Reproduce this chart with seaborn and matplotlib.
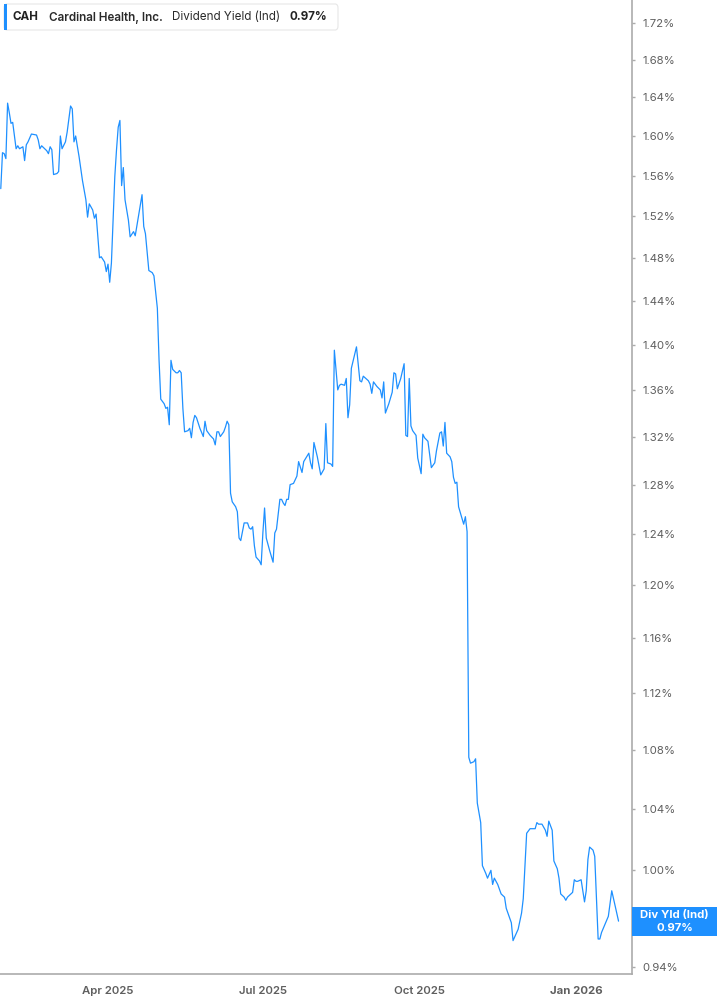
import matplotlib
matplotlib.use("Agg")
import matplotlib.pyplot as plt
import matplotlib.dates as mdates
from matplotlib.patches import Rectangle, FancyBboxPatch
from matplotlib.ticker import FixedLocator, FixedFormatter, NullLocator
import seaborn as sns
import pandas as pd

# ---------------- data ----------------
dates = [
    "2025-01-28", "2025-01-29", "2025-01-30", "2025-01-31", "2025-02-01", "2025-02-02", "2025-02-03", "2025-02-04",
    "2025-02-06", "2025-02-07", "2025-02-08", "2025-02-09", "2025-02-10", "2025-02-11", "2025-02-12", "2025-02-13",
    "2025-02-15", "2025-02-18", "2025-02-19", "2025-02-20", "2025-02-21", "2025-02-24", "2025-02-25", "2025-02-26",
    "2025-02-27", "2025-02-28", "2025-03-02", "2025-03-03", "2025-03-04", "2025-03-05", "2025-03-07", "2025-03-08",
    "2025-03-10", "2025-03-11", "2025-03-12", "2025-03-13", "2025-03-15", "2025-03-17", "2025-03-19", "2025-03-20",
    "2025-03-21", "2025-03-23", "2025-03-24", "2025-03-25", "2025-03-27", "2025-03-28", "2025-03-30", "2025-03-31",
    "2025-04-01", "2025-04-02", "2025-04-03", "2025-04-05", "2025-04-06", "2025-04-07", "2025-04-08", "2025-04-09",
    "2025-04-10", "2025-04-11", "2025-04-13", "2025-04-14", "2025-04-16", "2025-04-17", "2025-04-19", "2025-04-21",
    "2025-04-22", "2025-04-23", "2025-04-25", "2025-04-27", "2025-04-28", "2025-04-30", "2025-05-01", "2025-05-02",
    "2025-05-04", "2025-05-05", "2025-05-06", "2025-05-07", "2025-05-08", "2025-05-09", "2025-05-11", "2025-05-12",
    "2025-05-13", "2025-05-14", "2025-05-15", "2025-05-16", "2025-05-18", "2025-05-19", "2025-05-20", "2025-05-21",
    "2025-05-22", "2025-05-23", "2025-05-25", "2025-05-27", "2025-05-28", "2025-05-29", "2025-05-31", "2025-06-02",
    "2025-06-03", "2025-06-04", "2025-06-05", "2025-06-06", "2025-06-08", "2025-06-09", "2025-06-10", "2025-06-11",
    "2025-06-12", "2025-06-13", "2025-06-15", "2025-06-16", "2025-06-17", "2025-06-18", "2025-06-20", "2025-06-22",
    "2025-06-23", "2025-06-24", "2025-06-25", "2025-06-26", "2025-06-27", "2025-06-29", "2025-06-30", "2025-07-01",
    "2025-07-02", "2025-07-03", "2025-07-05", "2025-07-07", "2025-07-08", "2025-07-09", "2025-07-11", "2025-07-12",
    "2025-07-13", "2025-07-14", "2025-07-15", "2025-07-16", "2025-07-17", "2025-07-19", "2025-07-20", "2025-07-21",
    "2025-07-22", "2025-07-24", "2025-07-25", "2025-07-28", "2025-07-29", "2025-07-30", "2025-07-31", "2025-08-02",
    "2025-08-04", "2025-08-06", "2025-08-07", "2025-08-08", "2025-08-10", "2025-08-11", "2025-08-12", "2025-08-14",
    "2025-08-15", "2025-08-16", "2025-08-18", "2025-08-19", "2025-08-20", "2025-08-21", "2025-08-22", "2025-08-25",
    "2025-08-27", "2025-08-28", "2025-08-29", "2025-09-01", "2025-09-02", "2025-09-03", "2025-09-04", "2025-09-06",
    "2025-09-08", "2025-09-09", "2025-09-10", "2025-09-11", "2025-09-13", "2025-09-15", "2025-09-16", "2025-09-17",
    "2025-09-18", "2025-09-20", "2025-09-22", "2025-09-23", "2025-09-24", "2025-09-25", "2025-09-26", "2025-09-27",
    "2025-09-29", "2025-09-30", "2025-10-02", "2025-10-03", "2025-10-04", "2025-10-06", "2025-10-08", "2025-10-10",
    "2025-10-11", "2025-10-13", "2025-10-14", "2025-10-15", "2025-10-16", "2025-10-17", "2025-10-19", "2025-10-20",
    "2025-10-21", "2025-10-22", "2025-10-23", "2025-10-24", "2025-10-27", "2025-10-28", "2025-10-29", "2025-10-30",
    "2025-10-31", "2025-11-02", "2025-11-03", "2025-11-04", "2025-11-06", "2025-11-07", "2025-11-09", "2025-11-10",
    "2025-11-12", "2025-11-13", "2025-11-14", "2025-11-16", "2025-11-18", "2025-11-20", "2025-11-21", "2025-11-24",
    "2025-11-25", "2025-11-28", "2025-11-30", "2025-12-01", "2025-12-03", "2025-12-05", "2025-12-08", "2025-12-09",
    "2025-12-10", "2025-12-12", "2025-12-14", "2025-12-15", "2025-12-16", "2025-12-18", "2025-12-19", "2025-12-21",
    "2025-12-22", "2025-12-23", "2025-12-25", "2025-12-26", "2025-12-27", "2025-12-30", "2025-12-31", "2026-01-01",
    "2026-01-02", "2026-01-04", "2026-01-06", "2026-01-07", "2026-01-08", "2026-01-09", "2026-01-11", "2026-01-12",
    "2026-01-14", "2026-01-15", "2026-01-16", "2026-01-18", "2026-01-20", "2026-01-22", "2026-01-26",
]

div_yield = [
    1.547, 1.583, 1.582, 1.577, 1.634, 1.624, 1.613, 1.614,
    1.587, 1.590, 1.587, 1.588, 1.589, 1.575, 1.591, 1.594,
    1.602, 1.601, 1.596, 1.587, 1.590, 1.585, 1.582, 1.589,
    1.586, 1.561, 1.562, 1.564, 1.600, 1.587, 1.594, 1.604,
    1.631, 1.628, 1.594, 1.600, 1.579, 1.555, 1.536, 1.519,
    1.532, 1.526, 1.518, 1.522, 1.480, 1.481, 1.476, 1.467,
    1.474, 1.457, 1.475, 1.559, 1.586, 1.609, 1.616, 1.550,
    1.568, 1.536, 1.516, 1.500, 1.505, 1.501, 1.521, 1.541,
    1.510, 1.503, 1.468, 1.466, 1.463, 1.433, 1.386, 1.352,
    1.348, 1.344, 1.345, 1.330, 1.386, 1.378, 1.375, 1.375,
    1.377, 1.375, 1.344, 1.324, 1.325, 1.327, 1.319, 1.332,
    1.338, 1.336, 1.327, 1.320, 1.333, 1.325, 1.321, 1.318,
    1.313, 1.324, 1.324, 1.320, 1.324, 1.328, 1.333, 1.330,
    1.273, 1.266, 1.262, 1.258, 1.237, 1.235, 1.249, 1.249,
    1.245, 1.244, 1.246, 1.231, 1.222, 1.219, 1.216, 1.241,
    1.261, 1.237, 1.227, 1.218, 1.241, 1.244, 1.268, 1.268,
    1.265, 1.263, 1.268, 1.268, 1.280, 1.281, 1.284, 1.287,
    1.299, 1.290, 1.299, 1.306, 1.298, 1.293, 1.315, 1.303,
    1.288, 1.293, 1.331, 1.298, 1.297, 1.295, 1.395, 1.360,
    1.364, 1.365, 1.364, 1.370, 1.336, 1.347, 1.379, 1.398,
    1.368, 1.367, 1.372, 1.368, 1.365, 1.357, 1.367, 1.363,
    1.360, 1.353, 1.367, 1.340, 1.348, 1.358, 1.375, 1.374,
    1.361, 1.370, 1.383, 1.321, 1.320, 1.370, 1.329, 1.325,
    1.321, 1.302, 1.289, 1.322, 1.319, 1.316, 1.294, 1.298,
    1.308, 1.323, 1.324, 1.312, 1.332, 1.306, 1.303, 1.299,
    1.286, 1.281, 1.282, 1.262, 1.248, 1.254, 1.242, 1.075,
    1.071, 1.072, 1.074, 1.044, 1.031, 1.003, 0.998, 0.995,
    1.000, 0.991, 0.995, 0.991, 0.985, 0.983, 0.976, 0.967,
    0.956, 0.963, 0.973, 0.982, 1.024, 1.027, 1.027, 1.031,
    1.030, 1.030, 1.026, 1.022, 1.032, 1.026, 1.006, 1.001,
    0.995, 0.985, 0.983, 0.981, 0.983, 0.986, 0.994, 0.993,
    0.993, 0.994, 0.980, 0.987, 1.007, 1.015, 1.013, 1.009,
    0.957, 0.957, 0.961, 0.966, 0.971, 0.987, 0.968,
]

y_ticks = [0.94, 1.00, 1.04, 1.08, 1.12, 1.16, 1.20, 1.24, 1.28, 1.32,
           1.36, 1.40, 1.44, 1.48, 1.52, 1.56, 1.60, 1.64, 1.68, 1.72]
y_tick_labels = [f"{t:.2f}%" for t in y_ticks]
x_tick_dates = ["2025-04-01", "2025-07-01", "2025-10-01", "2026-01-01"]
x_tick_labels = ["Apr 2025", "Jul 2025", "Oct 2025", "Jan 2026"]

ticker_symbol = "CAH"
company = "Cardinal Health, Inc."
metric = "Dividend Yield (Ind)"
metric_short = "Div Yld (Ind)"
last_label = "0.97%"

df = pd.DataFrame({"date": pd.to_datetime(dates), "value": div_yield})

# ---------------- style ----------------
sns.set_theme(style="white")
plt.rcParams["font.family"] = ["Inter", "DejaVu Sans"]

BLUE = "#1E90FF"
GRID_GRAY = "#ababab"
TEXT_GRAY = "#5f5f5f"

W, H = 717, 1005
fig = plt.figure(figsize=(W / 100, H / 100), dpi=100, facecolor="white")
ax = fig.add_axes([0 / W, (H - 974) / H, 632 / W, 974 / H])
ax.set_facecolor("white")

sns.lineplot(data=df, x="date", y="value", ax=ax, color=BLUE, linewidth=0.9)

ax.set_yscale("log")
ax.set_ylim(0.9358, 1.7455)
x0 = pd.Timestamp("2025-01-01") + pd.Timedelta(days=26.54)
x1 = pd.Timestamp("2025-01-01") + pd.Timedelta(days=397.9)
ax.set_xlim(x0, x1)

ax.yaxis.tick_right()
ax.yaxis.set_major_locator(FixedLocator(y_ticks))
ax.yaxis.set_major_formatter(FixedFormatter(y_tick_labels))
ax.yaxis.set_minor_locator(NullLocator())
ax.set_xticks(pd.to_datetime(x_tick_dates))
ax.set_xticklabels(x_tick_labels)
ax.set_xlabel("")
ax.set_ylabel("")

for s in ["top", "left"]:
    ax.spines[s].set_visible(False)
for s in ["right", "bottom"]:
    ax.spines[s].set_color(GRID_GRAY)
    ax.spines[s].set_linewidth(1.2)

ax.tick_params(axis="y", which="major", direction="out", length=2.5, width=1,
               color=GRID_GRAY, labelsize=8.2, labelcolor=TEXT_GRAY, pad=5)
ax.tick_params(axis="x", which="major", direction="out", length=3.5, width=1,
               color=GRID_GRAY, labelsize=8.2, labelcolor=TEXT_GRAY, pad=5)
for lbl in ax.get_xticklabels():
    lbl.set_fontweight("semibold")
ax.get_xticklabels()[-1].set_fontweight("bold")
ax.grid(False)

# ---------------- header legend box ----------------
def fx(px):
    return px / W

def fy(py):
    return 1 - py / H

box = FancyBboxPatch((fx(4), fy(30)), fx(334), 26 / H,
                     boxstyle="round,pad=0,rounding_size=0.004",
                     transform=fig.transFigure, facecolor="white",
                     edgecolor="#e6e6e6", linewidth=0.8, zorder=5)
fig.patches.append(box)
fig.patches.append(Rectangle((fx(3.5), fy(30)), fx(3.5), 26 / H,
                             transform=fig.transFigure, facecolor=BLUE,
                             edgecolor="none", zorder=6))
ty = fy(17.5)
HF = 8.4
fig.text(fx(13), ty, ticker_symbol, fontsize=HF, fontweight="bold", color="#222222", va="center", zorder=7)
fig.text(fx(49), ty, company, fontsize=HF, fontweight="semibold", color="#2a2a2a", va="center", zorder=7)
fig.text(fx(172), ty, metric, fontsize=HF, fontweight="normal", color="#2a2a2a", va="center", zorder=7)
fig.text(fx(290), ty, last_label, fontsize=HF, fontweight="bold", color="#222222", va="center", zorder=7)

# ---------------- last value label on right ----------------
last_x = mdates.date2num(df["date"].iloc[-1])
last_y = df["value"].iloc[-1]
y_disp = ax.transData.transform((last_x, last_y))[1]
y_frac = y_disp / fig.bbox.height
bh = 29 / H
fig.patches.append(Rectangle((fx(632), y_frac - bh / 2), fx(W - 632), bh,
                             transform=fig.transFigure, facecolor=BLUE,
                             edgecolor="none", zorder=6))
fig.text(fx(674.5), y_frac + 6.5 / H, metric_short, fontsize=8.2, fontweight="bold",
         color="white", ha="center", va="center", zorder=7)
fig.text(fx(674.5), y_frac - 6.5 / H, last_label, fontsize=8.2, fontweight="bold",
         color="white", ha="center", va="center", zorder=7)

fig.savefig("out.png", dpi=100, facecolor="white")
